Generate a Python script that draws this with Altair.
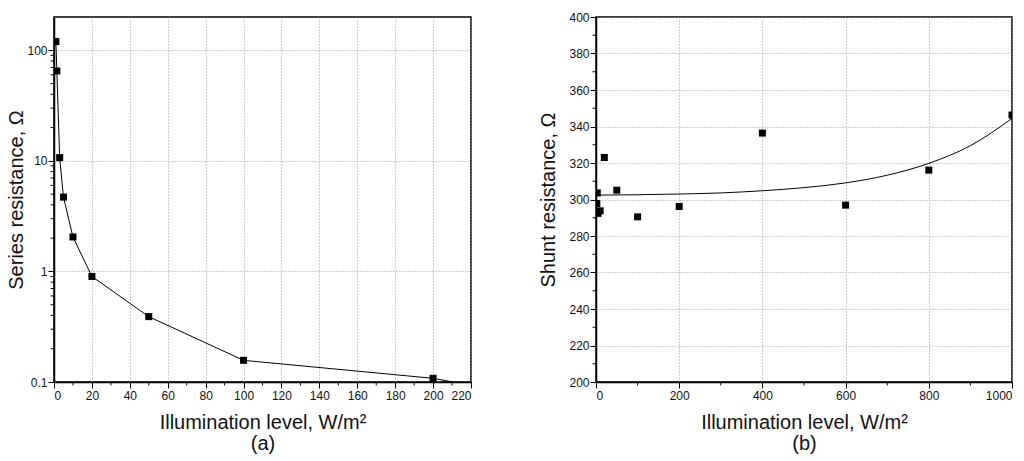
import altair as alt
import pandas as pd

# ---- data ----
# panel (a): series resistance vs illumination
series_x = [1, 1.5, 3, 5, 10, 20, 50, 100, 200]
series_y = [120, 65, 10.7, 4.7, 2.05, 0.90, 0.39, 0.157, 0.108]
# drawn line through the points (continues past last point until clipped)
series_line_x = [1, 1.5, 3, 5, 10, 20, 50, 100, 200, 216]
series_line_y = [120, 65, 10.7, 4.7, 2.05, 0.90, 0.39, 0.157, 0.108, 0.096]

# panel (b): shunt resistance vs illumination
shunt_x = [2, 3, 5, 10, 20, 50, 100, 200, 400, 600, 800, 1000]
shunt_y = [297.8, 303.6, 292.4, 293.8, 323.0, 305.1, 290.5, 296.2, 336.4, 296.9, 316.1, 346.3]
# fitted curve
fit_x = [0, 100, 200, 300, 400, 500, 600, 700, 800, 900, 1000]
fit_y = [302.4, 302.6, 303.0, 303.6, 304.8, 306.5, 309.1, 313.3, 319.8, 329.5, 344.4]

# tick positions
a_xticks = [0, 20, 40, 60, 80, 100, 120, 140, 160, 180, 200, 220]
a_xminor = [10, 30, 50, 70, 90, 110, 130, 150, 170, 190, 210]
a_yticks = [0.1, 1, 10, 100]
a_yminor = [0.2, 0.3, 0.4, 0.5, 0.6, 0.7, 0.8, 0.9,
            2, 3, 4, 5, 6, 7, 8, 9,
            20, 30, 40, 50, 60, 70, 80, 90]
b_xticks = [0, 200, 400, 600, 800, 1000]
b_xminor = [100, 300, 500, 700, 900]
b_yticks = [200, 220, 240, 260, 280, 300, 320, 340, 360, 380, 400]
b_yminor = [210, 230, 250, 270, 290, 310, 330, 350, 370, 390]

FONT = "Liberation Sans"
W1, W2, H = 417, 416, 365

axis_common = dict(
    grid=True, gridColor="#9a9a9a", gridDash=[1, 2], gridWidth=1,
    domainColor="black", domainWidth=1.5,
    tickColor="black", tickSize=6, tickWidth=1,
    labelFont=FONT, labelFontSize=12, labelColor="#111", labelOverlap=False,
    titleFont=FONT, titleFontSize=20, titleFontWeight="normal", titleColor="#111",
)


def panel(df_pts, df_line, interp, xdom, ydom, ylog, xt, yt, xminor, yminor,
          xtitle, ytitle, w, ytitlepad):
    xs = alt.Scale(domain=xdom, nice=False, zero=False)
    if ylog:
        ys = alt.Scale(type="log", domain=ydom, nice=False)
        yfmt = "~g"
    else:
        ys = alt.Scale(domain=ydom, nice=False, zero=False)
        yfmt = "d"
    xenc = alt.X("x:Q", scale=xs, axis=alt.Axis(values=xt, title=xtitle, format="d",
                                                labelPadding=2, titlePadding=11,
                                                titleLineHeight=21, **axis_common))
    yenc = alt.Y("y:Q", scale=ys, axis=alt.Axis(values=yt, title=ytitle, format=yfmt,
                                                labelPadding=1, titlePadding=ytitlepad,
                                                **axis_common))
    line = alt.Chart(df_line).mark_line(color="black", strokeWidth=1,
                                        interpolate=interp, clip=True).encode(x=xenc, y=yenc)
    pts = alt.Chart(df_pts).mark_square(size=49, color="black", opacity=1,
                                        clip=True).encode(x=xenc, y=yenc)
    mx = alt.Chart(pd.DataFrame({"x": xminor})).mark_rule(
        color="black", strokeWidth=1).encode(x=xenc, y=alt.value(H), y2=alt.value(H + 3.5))
    my = alt.Chart(pd.DataFrame({"y": yminor})).mark_rule(
        color="black", strokeWidth=1).encode(y=yenc, x=alt.value(0), x2=alt.value(-3.5))
    return alt.layer(line, pts, mx, my).properties(width=w, height=H)


left = panel(pd.DataFrame({"x": series_x, "y": series_y}),
             pd.DataFrame({"x": series_line_x, "y": series_line_y}),
             "linear", [0, 220], [0.1, 200], True, a_xticks, a_yticks,
             a_xminor, a_yminor,
             ["Illumination level, W/m²", "(a)"], "Series resistance, Ω", W1, 0)

right = panel(pd.DataFrame({"x": shunt_x, "y": shunt_y}),
              pd.DataFrame({"x": fit_x, "y": fit_y}),
              "monotone", [0, 1000], [200, 400], False, b_xticks, b_yticks,
              b_xminor, b_yminor,
              ["Illumination level, W/m²", "(b)"], "Shunt resistance, Ω", W2, 10)

chart = alt.hconcat(left, right, spacing=65).properties(
    padding={"left": 6, "top": 10, "right": 0, "bottom": 0},
    background="white",
).configure_view(stroke="black", strokeWidth=1.5)

chart.save("out.html", embed_options={"renderer": "svg", "actions": False})
